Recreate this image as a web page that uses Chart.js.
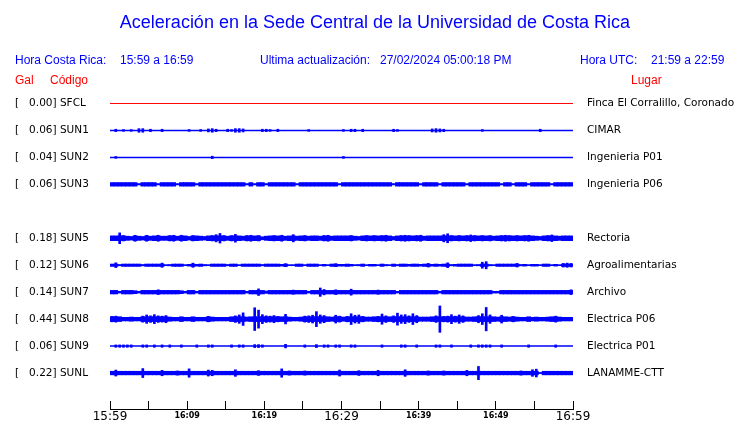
<!DOCTYPE html>
<html>
<head>
<meta charset="utf-8">
<script src="https://cdn.jsdelivr.net/npm/chart.js@4"></script>
<style>
    body { margin: 0; background: #fff; overflow: hidden; }
    #wrap { position: relative; width: 740px; height: 423px; }
    #wrap canvas { position: absolute; left: 0; top: 0; }
    .txt { position: absolute; font-family: "Liberation Sans", Arial, sans-serif; white-space: pre; font-size: 12px; line-height: 14px; color: #0000ff; }
    .red { color: #ff0000; }
    #title { left: 5px; width: 740px; text-align: center; top: 12px; font-size: 18px; line-height: 21px; }
</style>
</head>
<body>
<div id="wrap">
    <canvas id="sismos" width="740" height="423"></canvas>
    <div class="txt" id="title">Aceleración en la Sede Central de la Universidad de Costa Rica</div>
    <div class="txt" style="left:15px;top:53px">Hora Costa Rica:</div>
    <div class="txt" style="left:120px;top:53px">15:59 a 16:59</div>
    <div class="txt" style="left:260px;top:53px">Ultima actualización:</div>
    <div class="txt" style="left:380px;top:53px">27/02/2024 05:00:18 PM</div>
    <div class="txt" style="left:580px;top:53px">Hora UTC:</div>
    <div class="txt" style="left:651px;top:53px">21:59 a 22:59</div>
    <div class="txt red" style="left:15px;top:73px">Gal</div>
    <div class="txt red" style="left:50px;top:73px">Código</div>
    <div class="txt red" style="left:631px;top:73px">Lugar</div>
</div>
<script>
// stations, top to bottom (SUN4 has no trace in this window)
const codes = ['SFCL', 'SUN1', 'SUN2', 'SUN3', 'SUN4', 'SUN5', 'SUN6', 'SUN7', 'SUN8', 'SUN9', 'SUNL'];
const places = ['Finca El Corralillo, Coronado', 'CIMAR', 'Ingenieria P01', 'Ingenieria P06', '',
    'Rectoria', 'Agroalimentarias', 'Archivo', 'Electrica P06', 'Electrica P01', 'LANAMME-CTT'];
const peakGal = [0.00, 0.06, 0.04, 0.06, null, 0.18, 0.12, 0.14, 0.44, 0.06, 0.22];
const timeTicks = ['15:59', '16:09', '16:19', '16:29', '16:39', '16:49', '16:59'];

// half-minute envelopes of each trace, in cGal (0.01 Gal), from 15:59
const envSFCL = [];
const envSUN1 = [
    0,4,0,3,0,3,0,6,6,0, 4,0,0,4,0,0,0,0,0,0,
    3,0,0,3,0,5,6,4,0,0, 4,3,6,6,5,0,0,0,0,4,
    4,3,0,4,0,0,0,0,0,0, 0,3,0,0,0,0,0,0,0,0,
    3,0,4,4,0,4,0,0,0,0, 0,0,0,4,3,0,0,0,0,0,
    0,0,0,5,6,5,4,0,0,0, 0,0,0,0,0,0,3,0,0,0,
    0,0,0,0,0,0,0,0,0,0, 0,4,0,0,0,0,0,0,0,0];
const envSUN2 = [
    0,3,0,0,0,0,0,0,0,0, 0,0,0,0,0,0,0,0,0,0,
    0,0,0,0,0,0,4,0,0,0, 0,0,0,0,0,0,0,0,0,0,
    0,0,0,0,0,0,0,0,0,0, 0,0,0,0,0,0,0,0,0,0,
    3,0,0,0,0,0,0,0,0,0, 0,0,0,0,0,0,0,0,0,0,
    0,0,0,0,0,0,0,0,0,0, 0,0,0,0,0,0,0,0,0,0,
    0,0,0,0,0,0,0,0,0,0, 0,0,0,0,0,0,0,0,0,0];
const envSUN3 = [
    6,6,6,6,6,6,6,2,6,6, 6,6,2,6,6,6,6,2,6,6,
    6,6,2,6,6,6,6,6,6,6, 6,6,6,6,6,2,6,2,6,6,
    2,6,6,6,6,6,6,6,2,6, 6,6,6,6,6,6,6,6,6,2,
    6,6,6,6,6,6,6,6,6,6, 6,6,6,2,6,6,6,6,6,6,
    2,6,6,6,6,2,6,6,6,6, 6,6,2,6,6,6,6,6,6,6,
    6,2,6,6,2,6,6,6,2,6, 6,6,6,6,2,6,6,6,6,6];
const envSUN5 = [
    8,8,18,9,7,6,10,7,6,10, 7,8,10,7,7,9,10,7,10,8,
    6,9,8,7,6,8,9,12,16,9, 7,9,13,8,7,9,10,8,9,5,
    7,8,9,8,10,7,8,12,7,8, 9,7,8,8,7,9,10,7,8,8,
    8,8,9,7,6,8,9,8,9,8, 9,10,8,6,8,9,10,9,8,9,
    10,7,8,8,8,8,12,15,9,8, 9,8,9,11,9,8,9,8,9,7,
    8,9,10,9,8,9,8,9,10,8, 7,6,8,9,11,8,7,8,8,8];
const envSUN6 = [
    4,8,2,4,4,4,4,4,2,4, 4,4,4,7,1,2,4,4,4,1,
    3,7,3,4,2,1,4,4,4,4, 2,4,4,1,4,4,4,4,4,2,
    4,4,4,4,3,5,1,1,4,4, 1,4,4,4,1,3,1,4,5,3,
    3,4,3,1,2,4,1,3,3,1, 4,2,1,4,2,4,4,3,4,4,
    3,4,6,3,4,3,4,8,2,3, 4,4,4,4,1,2,10,12,2,1,
    4,4,4,4,4,6,2,3,1,3, 3,1,4,4,1,3,1,6,7,6];
const envSUN7 = [
    6,6,3,6,6,6,5,3,6,6, 6,6,8,6,6,6,6,6,5,3,
    6,6,3,6,6,6,6,6,6,6, 6,6,6,6,6,3,6,6,11,6,
    4,6,6,6,6,6,6,7,6,6, 6,3,6,6,14,9,6,6,8,6,
    6,6,10,6,6,6,6,6,6,7, 6,6,6,6,3,6,6,6,6,6,
    6,6,6,6,6,3,6,6,6,6, 6,6,6,6,6,6,6,6,6,3,
    3,6,6,6,6,6,6,6,6,6, 6,6,6,6,6,6,6,6,6,8];
const envSUN8 = [
    9,10,8,6,6,7,6,6,10,14, 11,15,11,10,12,7,6,6,8,6,
    6,8,6,6,6,9,7,6,6,6, 6,8,11,14,21,7,8,38,30,15,
    11,10,12,9,8,16,7,6,6,7, 10,11,13,25,14,12,8,7,13,10,
    7,9,18,13,14,9,7,7,8,9, 17,11,8,11,20,14,15,11,18,12,
    7,7,7,8,11,44,9,10,15,10, 14,11,7,7,8,12,18,39,14,8,
    7,13,8,7,9,7,6,6,8,6, 7,6,6,7,8,10,7,6,6,6];
const envSUN9 = [
    0,4,4,4,4,4,0,0,4,4, 0,4,0,4,0,4,0,0,4,0,
    0,0,4,0,0,4,4,0,0,0, 0,4,0,4,4,0,0,5,5,4,
    0,0,0,0,0,6,0,0,0,0, 4,0,0,5,0,4,4,0,4,4,
    0,0,4,4,0,0,0,0,0,0, 4,0,0,0,0,4,4,0,0,4,
    0,0,0,0,4,4,0,0,4,0, 0,0,0,4,0,4,4,4,4,0,
    0,4,0,0,0,0,0,0,4,0, 0,0,0,0,0,4,0,0,0,0];
const envSUNL = [
    6,10,6,6,6,6,6,6,15,6, 6,6,6,9,6,6,6,7,6,6,
    14,6,6,6,6,10,9,6,6,6, 6,6,11,6,6,6,6,6,8,6,
    6,6,6,6,14,6,7,6,6,6, 7,6,6,6,6,6,6,6,6,10,
    6,6,6,6,8,6,6,6,6,9, 6,6,6,6,6,6,11,6,6,6,
    6,6,7,6,6,6,7,6,6,6, 6,6,9,6,6,22,6,6,6,6,
    6,6,6,6,6,6,7,6,6,11, 13,1,6,6,6,6,6,6,6,6];
const envs = [envSFCL, envSUN1, envSUN2, envSUN3, null, envSUN5, envSUN6, envSUN7, envSUN8, envSUN9, envSUNL];

const BIN_MIN = 0.5;   // minutes per envelope value
const SPAN_MIN = 60;
const ROW_GAL = 0.9;   // gap between traces on the Gal axis
const BLUE = '#0000ff';
const RED = '#ff0000';

function median(arr) {
    const s = arr.slice().sort((a, b) => a - b);
    return s.length ? s[Math.floor(s.length / 2)] : 0;
}

const datasets = [];
codes.forEach(function (code, i) {
    const env = envs[i];
    if (env === null) return;
    const row = i * ROW_GAL;
    const color = i === 0 ? RED : BLUE;
    const med = median(env);
    const toBar = (v, k) => ({ x: (k + 0.5) * BIN_MIN, y: [row - v / 100, row + v / 100] });

    datasets.push({
        type: 'line',
        label: code,
        data: [{ x: 0, y: row }, { x: SPAN_MIN, y: row }],
        borderColor: color,
        borderWidth: i === 0 ? 1 : 1.5,
        pointRadius: 0
    });
    // steady background band of the trace
    datasets.push({
        type: 'bar',
        label: code + ' band',
        data: env.map((v, k) => toBar(Math.min(v, med), k)).filter(d => d.y[1] > d.y[0]),
        backgroundColor: color,
        borderWidth: 0,
        grouped: false,
        barThickness: 4
    });
    // peaks that stick out of the band
    datasets.push({
        type: 'bar',
        label: code + ' peaks',
        data: env.map(toBar).filter((d, k) => env[k] > med),
        backgroundColor: color,
        borderWidth: 0,
        grouped: false,
        barThickness: 2
    });
});

const rowTicks = function (scale) {
    scale.ticks = codes.map((c, i) => ({ value: i * ROW_GAL }));
};
const noPad = function (w) {
    return function (s) { s.width = w; s.paddingTop = 0; s.paddingBottom = 0; };
};
const labelFont = { family: 'DejaVu Sans', size: 10.5 };

new Chart(document.getElementById('sismos').getContext('2d'), {
    type: 'bar',
    data: { datasets: datasets },
    options: {
        responsive: false,
        animation: false,
        devicePixelRatio: 1,
        layout: { padding: { top: 90, left: 15, right: 0, bottom: 0 } },
        plugins: { legend: { display: false }, tooltip: { enabled: false } },
        scales: {
            x: {
                type: 'linear',
                offset: false,
                min: 0,
                max: SPAN_MIN,
                grid: { offset: false, drawOnChartArea: false, drawTicks: true, tickLength: -8, color: '#000', lineWidth: 1 },
                border: { display: true, color: '#000', width: 1 },
                ticks: {
                    stepSize: 5,
                    autoSkip: false,
                    maxRotation: 0,
                    padding: 8,
                    color: '#000',
                    callback: v => v % 10 === 0 ? timeTicks[v / 10] : '',
                    font: function (ctx) {
                        if (!ctx.tick || ctx.tick.value % 30 === 0) {
                            return { family: 'DejaVu Sans', size: 12, lineHeight: '16px' };
                        }
                        return { family: 'DejaVu Sans', size: 8, weight: 'bold', lineHeight: '13px' };
                    }
                },
                afterFit: s => { s.height = 14; }
            },
            y: {
                type: 'linear',
                position: 'left',
                reverse: true,
                min: -0.45,
                max: 10.2,
                grid: { display: false, drawTicks: false },
                border: { display: false },
                afterBuildTicks: rowTicks,
                ticks: {
                    autoSkip: false,
                    crossAlign: 'far',
                    padding: 0,
                    color: '#000',
                    font: labelFont,
                    callback: (v, i) => peakGal[i] === null ? '' : '[   ' + peakGal[i].toFixed(2) + '] ' + codes[i]
                },
                afterFit: noPad(95)
            },
            y2: {
                type: 'linear',
                position: 'right',
                reverse: true,
                min: -0.45,
                max: 10.2,
                grid: { display: false, drawTicks: false },
                border: { display: false },
                afterBuildTicks: rowTicks,
                ticks: {
                    autoSkip: false,
                    crossAlign: 'near',
                    padding: 14,
                    color: '#000',
                    font: labelFont,
                    callback: (v, i) => places[i]
                },
                afterFit: noPad(167)
            }
        }
    }
});
</script>
</body>
</html>
